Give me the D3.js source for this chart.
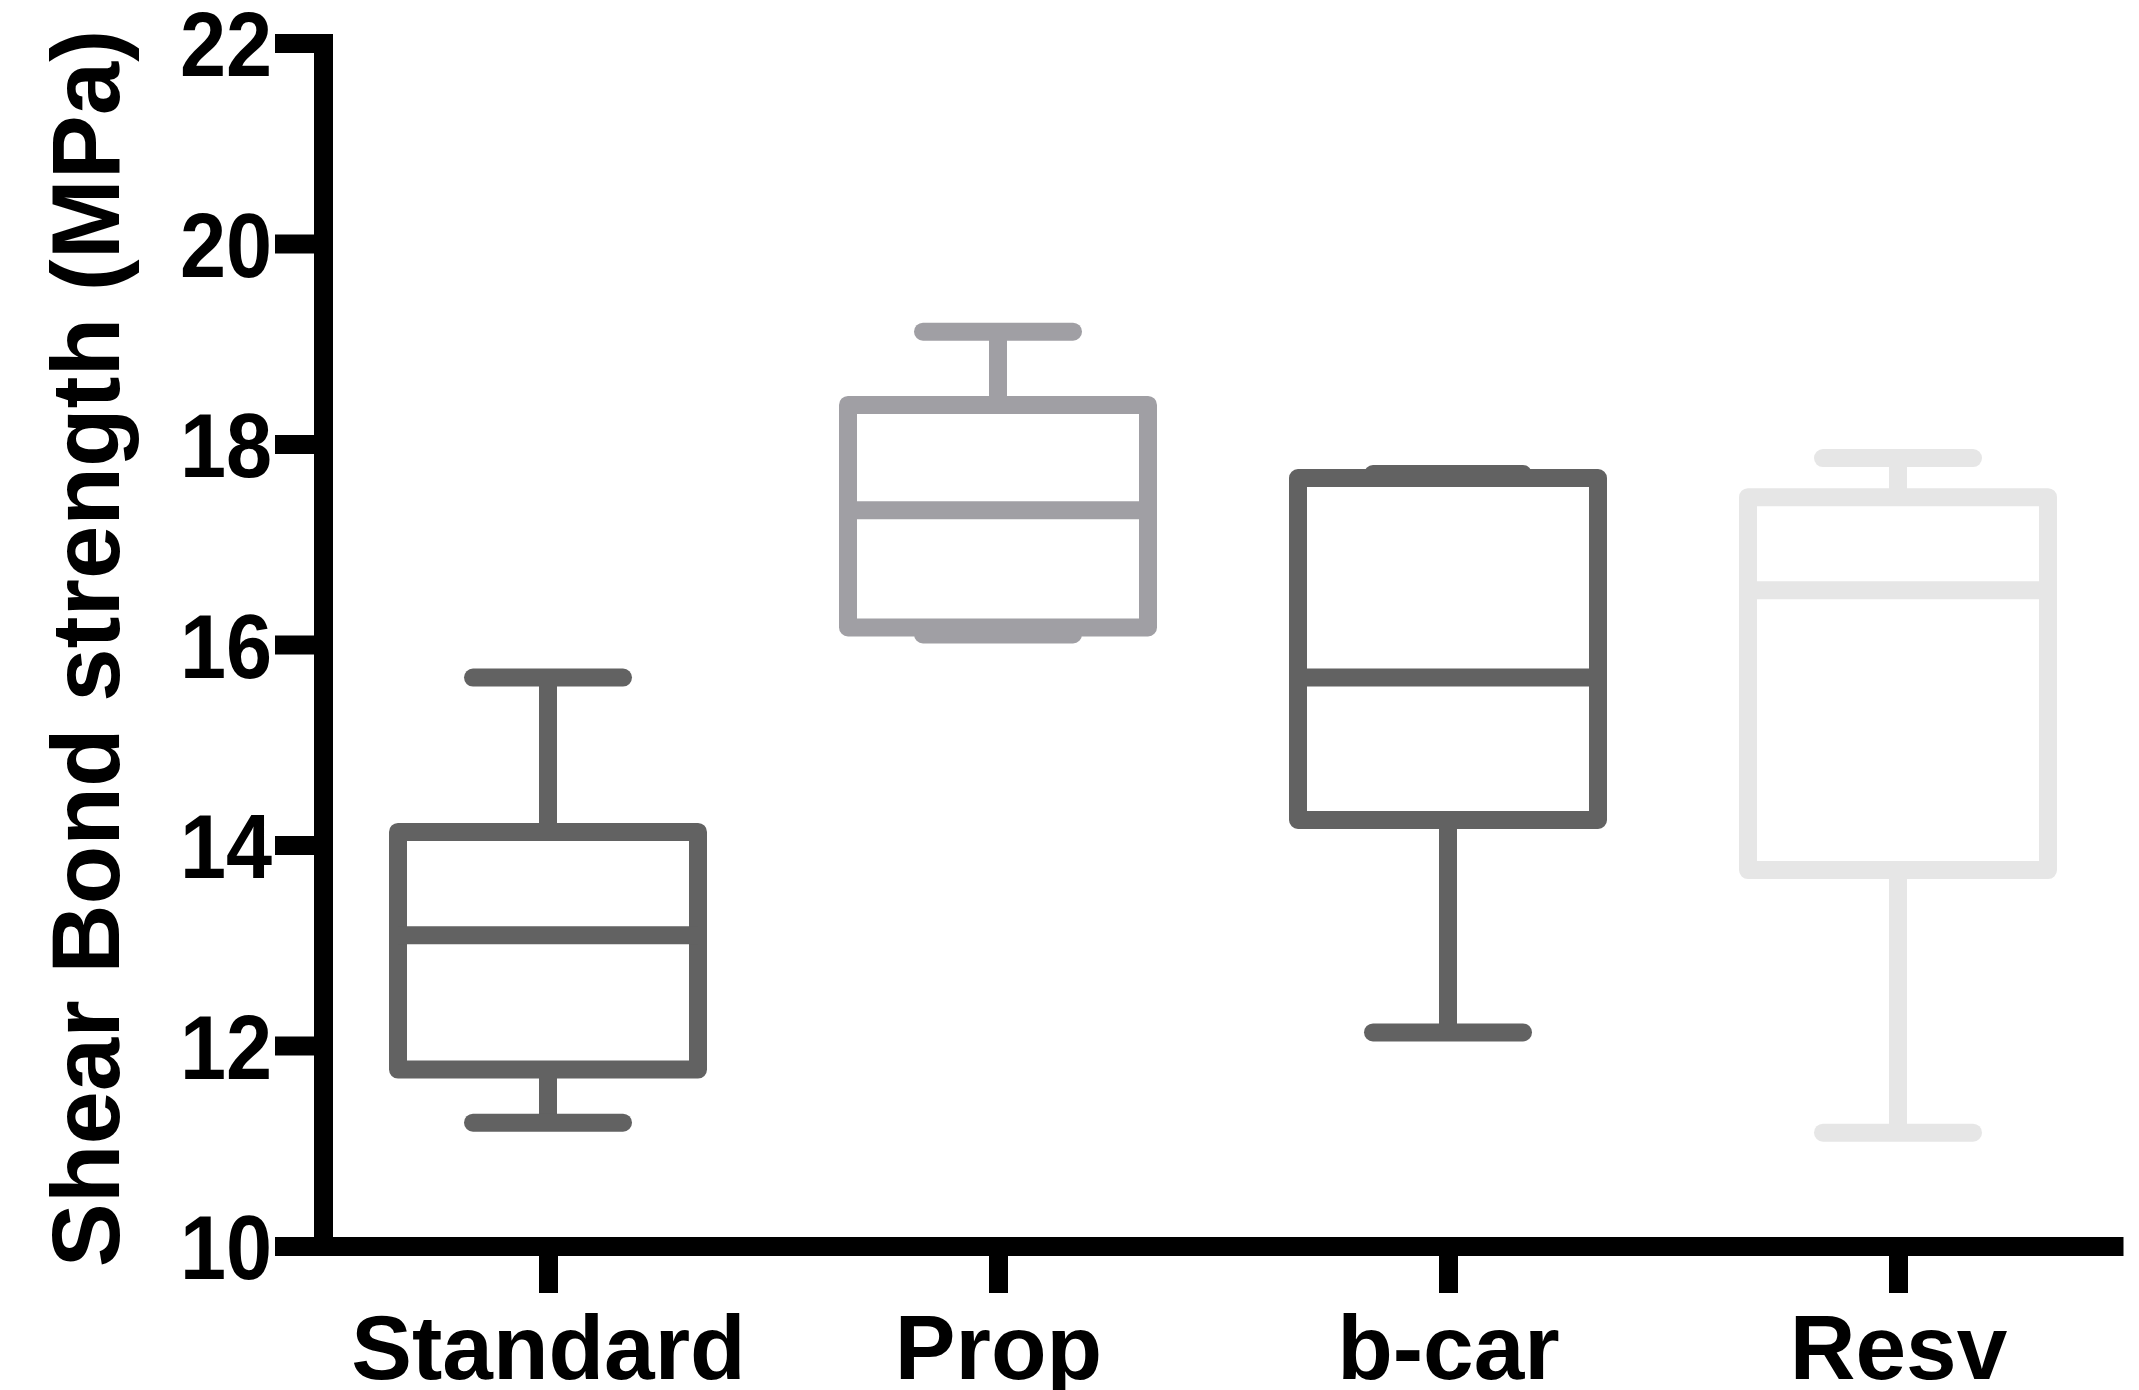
<!DOCTYPE html>
<html>
<head>
<meta charset="utf-8">
<script src="https://cdn.jsdelivr.net/npm/d3@7"></script>
<style>
  html, body { margin: 0; padding: 0; background: #ffffff; }
  svg { display: block; }
  text { font-family: "Liberation Sans", Arial, Helvetica, sans-serif; font-weight: bold; fill: #000; }
</style>
</head>
<body>
<script>
// ---- Data ----
const categories   = ["Standard", "Prop", "b-car", "Resv"];
const whiskerLow   = [11.23, 16.10, 12.13, 11.13];
const q1Values     = [11.76, 16.17, 14.25, 13.75];
const medianValues = [13.10, 17.34, 15.67, 16.54];
const q3Values     = [14.13, 18.39, 17.66, 17.47];
const whiskerHigh  = [15.67, 19.12, 17.70, 17.86];
const boxColors    = ["#626262", "#a09fa4", "#626262", "#e6e6e6"];
const yTickValues  = [10, 12, 14, 16, 18, 20, 22];
const yTitle = "Shear Bond strength (MPa)";

// ---- Layout ----
const W = 2139, H = 1390;
const axisX = 323, axisY = 1246, topY = 43, rightX = 2123;
const lineW = 18, axisW = 19;

const svg = d3.select("body").append("svg")
  .attr("width", W).attr("height", H)
  .attr("viewBox", `0 0 ${W} ${H}`);

const x = d3.scalePoint().domain(categories).range([axisX, rightX]).padding(0.5);
const y = d3.scaleLinear().domain([10, 22]).range([axisY, topY]);
const step = x.step();
const boxHalf = step / 3;      // box width = 2/3 of step
const capHalf = step / 6;      // cap width = half box width

const data = categories.map((c, i) => ({
  cat: c, lo: whiskerLow[i], q1: q1Values[i], med: medianValues[i],
  q3: q3Values[i], hi: whiskerHigh[i], color: boxColors[i]
}));

// ---- Boxes ----
const g = svg.append("g");
const groups = g.selectAll("g.box").data(data).join("g").attr("class", "box");

// whiskers (vertical)
groups.append("line")
  .attr("x1", d => x(d.cat)).attr("x2", d => x(d.cat))
  .attr("y1", d => y(d.hi)).attr("y2", d => y(d.q3))
  .attr("stroke", d => d.color).attr("stroke-width", lineW);
groups.append("line")
  .attr("x1", d => x(d.cat)).attr("x2", d => x(d.cat))
  .attr("y1", d => y(d.q1)).attr("y2", d => y(d.lo))
  .attr("stroke", d => d.color).attr("stroke-width", lineW);

// caps
groups.append("line")
  .attr("x1", d => x(d.cat) - capHalf).attr("x2", d => x(d.cat) + capHalf)
  .attr("y1", d => y(d.hi)).attr("y2", d => y(d.hi))
  .attr("stroke", d => d.color).attr("stroke-width", lineW)
  .attr("stroke-linecap", "round");
groups.append("line")
  .attr("x1", d => x(d.cat) - capHalf).attr("x2", d => x(d.cat) + capHalf)
  .attr("y1", d => y(d.lo)).attr("y2", d => y(d.lo))
  .attr("stroke", d => d.color).attr("stroke-width", lineW)
  .attr("stroke-linecap", "round");

// box
groups.append("rect")
  .attr("x", d => x(d.cat) - boxHalf)
  .attr("width", 2 * boxHalf)
  .attr("y", d => y(d.q3))
  .attr("height", d => y(d.q1) - y(d.q3))
  .attr("fill", "#ffffff")
  .attr("stroke", d => d.color).attr("stroke-width", lineW)
  .attr("stroke-linejoin", "round");

// median
groups.append("line")
  .attr("x1", d => x(d.cat) - boxHalf).attr("x2", d => x(d.cat) + boxHalf)
  .attr("y1", d => y(d.med)).attr("y2", d => y(d.med))
  .attr("stroke", d => d.color).attr("stroke-width", lineW);

// ---- Axes ----
const yLabelScale = 0.91;
const yAxis = d3.axisLeft(y).tickValues(yTickValues).tickFormat(d3.format("d"))
  .tickSize(48).tickSizeOuter(0).tickPadding(3);
const yG = svg.append("g").attr("transform", `translate(${axisX},0)`).call(yAxis);
yG.select(".domain").attr("stroke", "#000").attr("stroke-width", axisW)
  .attr("stroke-linecap", "square");
yG.selectAll(".tick line").attr("stroke", "#000").attr("stroke-width", axisW);
yG.selectAll(".tick text")
  .attr("font-size", 91).attr("dy", "0.36em")
  .attr("x", -51 / yLabelScale)
  .attr("transform", `scale(${yLabelScale},1)`)
  .attr("font-family", "'Liberation Sans', Arial, sans-serif").attr("font-weight", "bold").attr("fill", "#000");

const xAxis = d3.axisBottom(x).tickSize(47).tickSizeOuter(0).tickPadding(21);
const xG = svg.append("g").attr("transform", `translate(0,${axisY})`).call(xAxis);
xG.select(".domain").attr("stroke", "#000").attr("stroke-width", axisW);
xG.selectAll(".tick line").attr("stroke", "#000").attr("stroke-width", axisW);
xG.selectAll(".tick text").attr("font-size", 91)
  .attr("font-family", "'Liberation Sans', Arial, sans-serif").attr("font-weight", "bold").attr("fill", "#000");

// y-axis line drawn over x-axis corner
yG.raise();

// ---- Y title ----
svg.append("text")
  .attr("transform", `translate(119,${(y(10) + y(22)) / 2 + 4}) rotate(-90)`)
  .attr("text-anchor", "middle")
  .attr("font-size", 96)
  .text(yTitle);
</script>
</body>
</html>
